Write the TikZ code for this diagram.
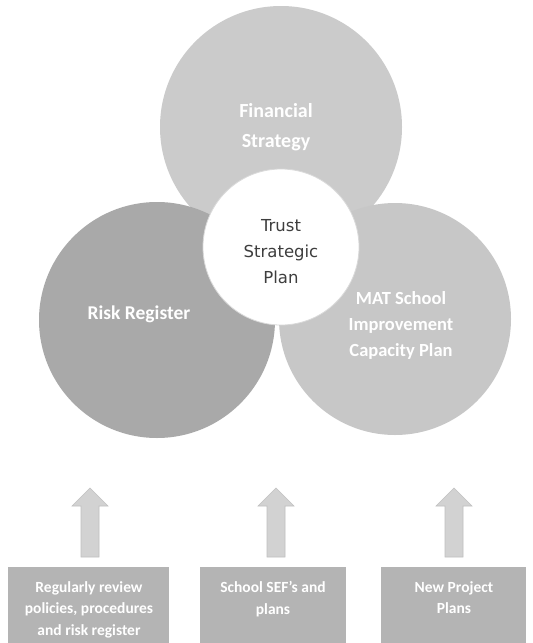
\documentclass[tikz,border=0pt]{standalone}
\usepackage{fontspec}
\setmainfont{Carlito}
\newfontfamily\centerfont{DejaVu Sans}
\begin{document}
\begin{tikzpicture}[x=1pt,y=-1pt,
  bigcircle/.style={circle,inner sep=0pt},
  circtext/.style={text=white,align=center},
  boxstyle/.style={fill=boxgrey,inner sep=0pt},
  boxtext/.style={text=white,align=center,anchor=north,font=\bfseries\fontsize{15.5}{21.5}\selectfont},
  blockarrow/.style={fill=arrowgrey,draw=arrowedge,line width=0.6pt}
]
\definecolor{topgrey}{HTML}{CBCBCB}
\definecolor{leftgrey}{HTML}{A9A9A9}
\definecolor{rightgrey}{HTML}{C7C7C7}
\definecolor{boxgrey}{HTML}{B4B4B4}
\definecolor{arrowgrey}{HTML}{D2D2D2}
\definecolor{arrowedge}{HTML}{C0C0C0}
\definecolor{darktext}{HTML}{3E3E3E}
\useasboundingbox (0,0) rectangle (533,643);
\fill[white] (0,0) rectangle (533,643);

% circles
\node[bigcircle,fill=topgrey,minimum size=242pt] (fin) at (281,127) {};
\node[bigcircle,fill=leftgrey,minimum size=236pt] (risk) at (157,320) {};
\node[bigcircle,fill=rightgrey,minimum size=232pt] (mat) at (395,319) {};
\node[bigcircle,fill=white,draw=white!85!black,line width=0.8pt,minimum size=156pt] (trust) at (281,247) {};

% circle texts
\node[circtext,font=\bfseries\fontsize{20}{30}\selectfont] (fint) at (276,127) {Financial\\Strategy};
\node[circtext,font=\bfseries\fontsize{19.5}{30}\selectfont] (riskt) at (139,314) {Risk Register};
\node[circtext,font=\bfseries\fontsize{18.5}{26}\selectfont] (matt) at (401,325) {MAT School\\Improvement\\Capacity Plan};
\node[text=darktext,align=center,font=\centerfont\fontsize{16.5}{26}\selectfont] (trustt) at (281,252) {Trust\\Strategic\\Plan};

% boxes
\node[boxstyle,minimum width=161pt,minimum height=90pt,anchor=north west] (b1) at (8,567) {};
\node[boxstyle,minimum width=146pt,minimum height=90pt,anchor=north west] (b2) at (200,567) {};
\node[boxstyle,minimum width=145pt,minimum height=90pt,anchor=north west] (b3) at (381,567) {};
\node[boxtext] (b1t) at (89,578) {Regularly review\\policies, procedures\\and risk register};
\node[boxtext] (b2t) at (273,578) {School SEF's and\\plans};
\node[boxtext] (b3t) at (454,578) {New Project\\Plans};

% block arrows
\foreach \n/\cx in {a1/90,a2/276,a3/454}{
  \coordinate (\n) at (\cx,488);
  \draw[blockarrow] (\cx,488) -- (\cx+18,506) -- (\cx+9,506) -- (\cx+9,557)
     -- (\cx-9,557) -- (\cx-9,506) -- (\cx-18,506) -- cycle;
}
\end{tikzpicture}
\end{document}
